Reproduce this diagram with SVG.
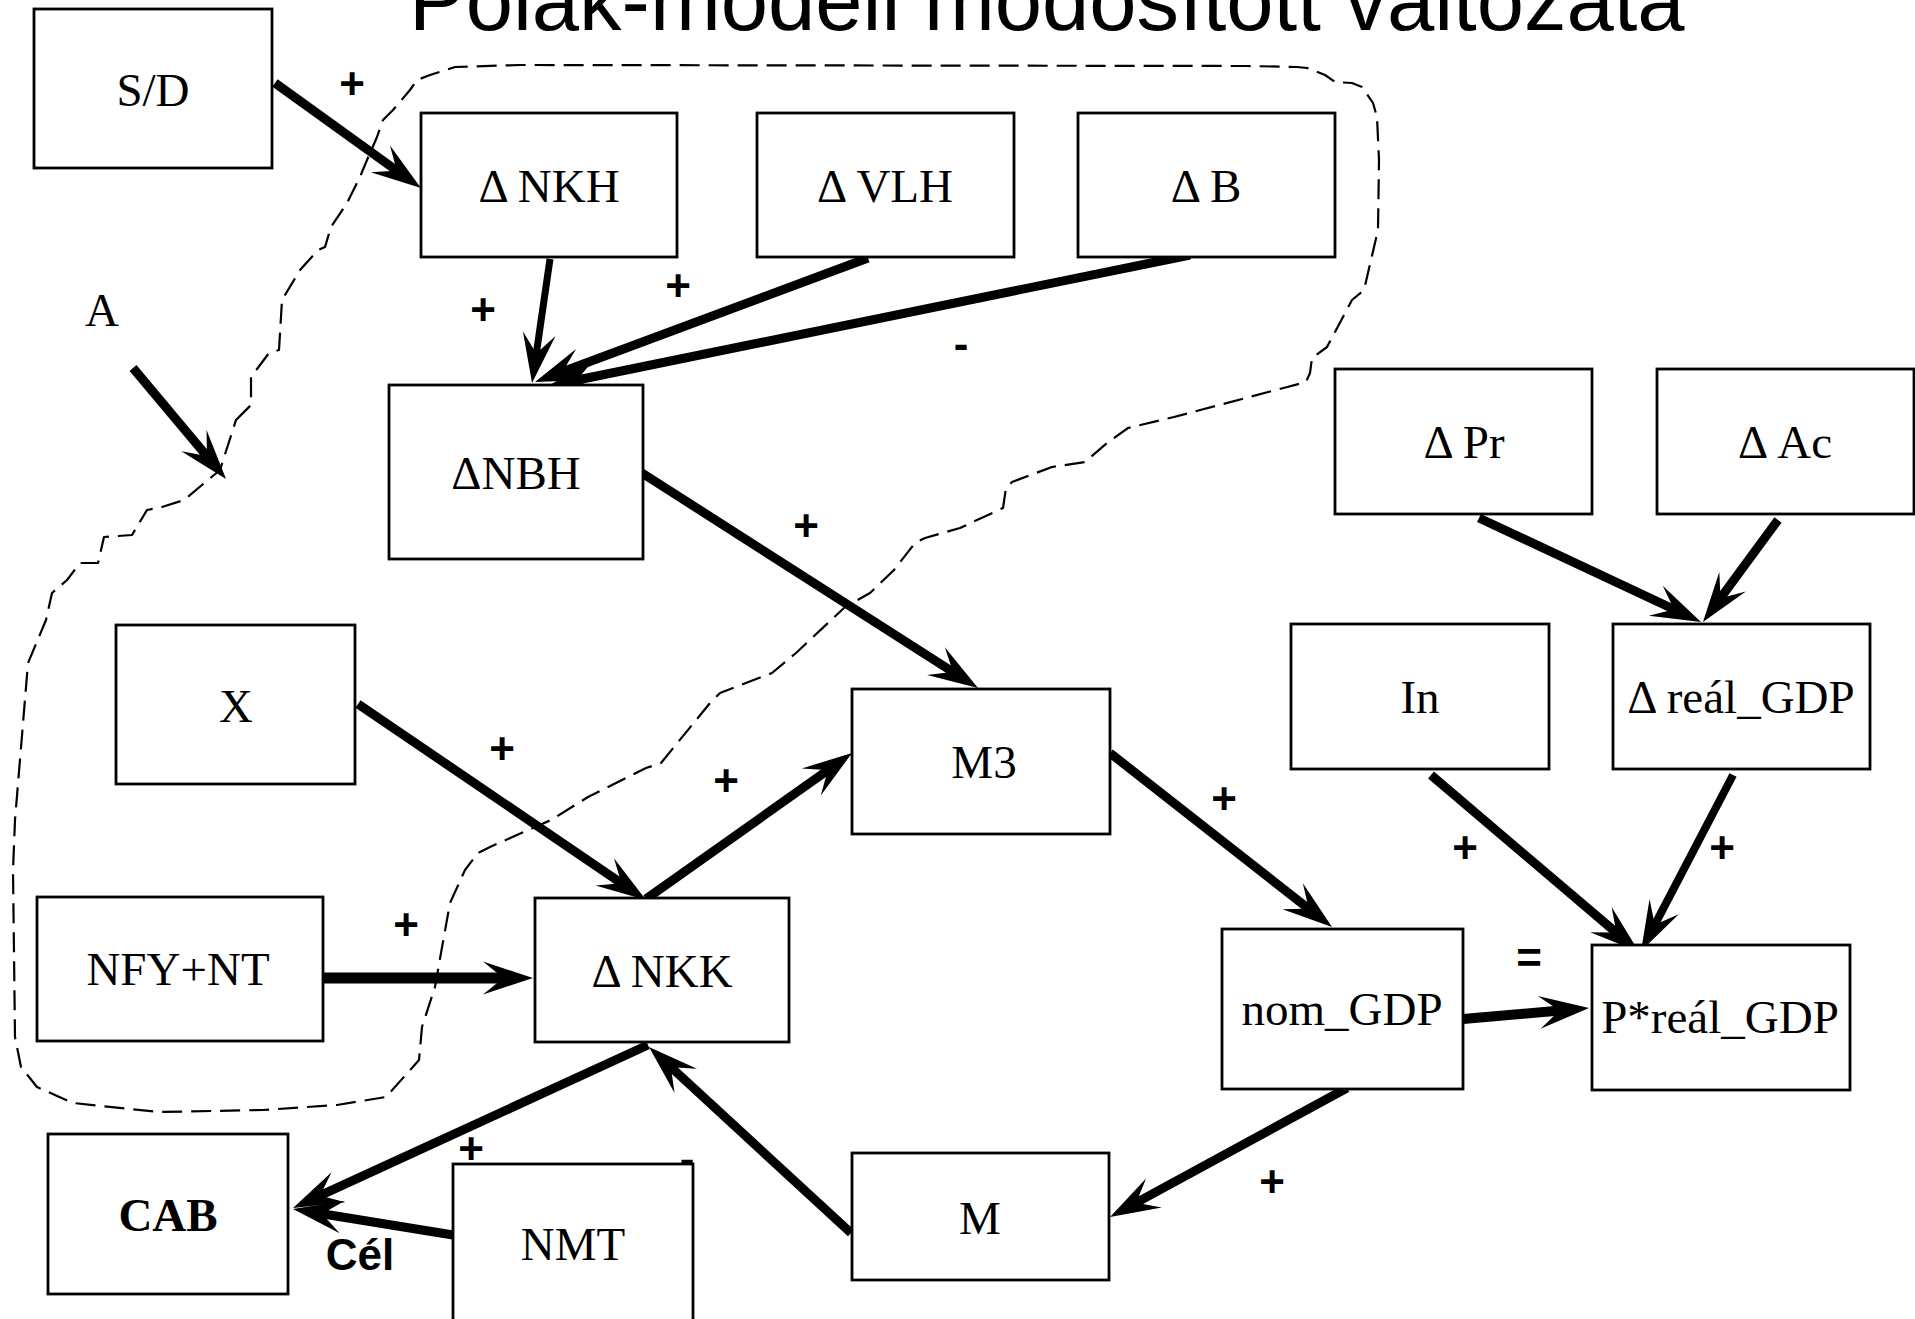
<svg xmlns="http://www.w3.org/2000/svg" width="1915" height="1319" viewBox="0 0 1915 1319">
<style>
  .box { fill: #fff; stroke: #000; stroke-width: 2.8; }
  .lbl { font-family: "Liberation Serif", "Times New Roman", serif; font-size: 47px; fill: #000; text-anchor: middle; }
  .sign { font-family: "Liberation Sans", Arial, sans-serif; font-weight: bold; font-size: 44px; fill: #000; text-anchor: middle; }
  .arr { fill: none; stroke: #000; stroke-width: 9; marker-end: url(#head); }
  .title { font-family: "Liberation Sans", Arial, sans-serif; font-size: 85px; fill: #000; }
  .bound { fill: none; stroke: #000; stroke-width: 2.2; stroke-dasharray: 20 9; stroke-linejoin: round; }
</style>
<defs>
  <marker id="head" markerUnits="userSpaceOnUse" orient="auto" refX="0" refY="0" markerWidth="80" markerHeight="80" viewBox="-40 -40 80 80" overflow="visible">
    <path d="M20,0 L-30,-16.5 L-14,-3.5 L-14,3.5 L-30,16.5 Z" fill="#000"/>
  </marker>
</defs>
<rect width="1915" height="1319" fill="#fff"/>
<text class="title" x="409" y="30">Polák-modell módosított változata</text>

<path class="bound" d="M236,420 L251,405 L251,377 L269,353 L279,350 L282,300 L300,270 L318,250 L325,247 L331,227 L347,203 L360,177 L367,160 L377,137 L383,120 L393,110 L410,90 L417,80 L430,75 L455,67 L520,65 L1247,66 L1297,67 L1307,68 L1325,75 L1335,82 L1352,83 L1362,87 L1373,103 L1377,117 L1379,160 L1378,230 L1364,290 L1352,300 L1327,347 L1312,358 L1310,373 L1306,382 L1174,417 L1128,428 L1107,443 L1085,462 L1052,467 L1012,482 L1006,488 L1003,508 L960,528 L925,538 L915,543 L894,570 L870,593 L845,607 L796,653 L772,673 L720,693 L710,703 L661,763 L646,768 L588,797 L551,820 L490,847 L478,853 L465,870 L450,903 L441,953 L435,987 L422,1027 L419,1060 L386,1097 L337,1105 L263,1110 L159,1112 L73,1103 L37,1087 L21,1067 L15,1037 L13,870 L15,820 L28,663 L46,620 L52,593 L67,580 L80,563 L98,563 L104,537 L132,535 L147,510 L162,507 L184,500 L208,480 L220,470 Z"/>

<g id="connectors">
  <path class="arr" d="M275,83 L404.7,176.4"/>
  <path class="arr" d="M133,368 L213.2,463.6"/>
  <path class="arr" style="stroke-width:7" d="M550,259 L534.9,363.2"/>
  <path class="arr" d="M868,258 L553.7,375"/>
  <path class="arr" d="M1190,255 L567.6,382"/>
  <path class="arr" d="M631,466 L961.2,677.2"/>
  <path class="arr" d="M358,704 L629.5,888.7"/>
  <path class="arr" d="M646,899 L835.7,764.6"/>
  <path class="arr" style="stroke-width:11" d="M324,978 L513,978"/>
  <path class="arr" d="M1110,753 L1316.3,914.7"/>
  <path class="arr" d="M1479,518 L1682.9,613.5"/>
  <path class="arr" d="M1778,520 L1714.8,605.9"/>
  <path class="arr" d="M1431,775 L1623.8,939"/>
  <path class="arr" style="stroke-width:8" d="M1733,775 L1650.3,933.3"/>
  <path class="arr" style="stroke-width:10" d="M1463,1019 L1569.1,1009.7"/>
  <path class="arr" d="M1347,1088 L1127.6,1207.4"/>
  <path class="arr" d="M851,1233 L663.7,1060.5"/>
  <path class="arr" d="M648,1045 L311.2,1199.7"/>
  <path class="arr" d="M453,1235 L312.7,1212.2"/>
</g>

<g id="node-SD"><rect class="box" x="34" y="9" width="238" height="159"/><text class="lbl" x="153" y="106">S/D</text></g>
<g id="node-NKH"><rect class="box" x="421" y="113" width="256" height="144"/><text class="lbl" x="549" y="202">Δ NKH</text></g>
<g id="node-VLH"><rect class="box" x="757" y="113" width="257" height="144"/><text class="lbl" x="885" y="202">Δ VLH</text></g>
<g id="node-B"><rect class="box" x="1078" y="113" width="257" height="144"/><text class="lbl" x="1206" y="202">Δ B</text></g>
<g id="node-A"><text class="lbl" x="102" y="326">A</text></g>
<g id="node-NBH"><rect class="box" x="389" y="385" width="254" height="174"/><text class="lbl" x="516" y="489">ΔNBH</text></g>
<g id="node-Pr"><rect class="box" x="1335" y="369" width="257" height="145"/><text class="lbl" x="1464" y="458">Δ Pr</text></g>
<g id="node-Ac"><rect class="box" x="1657" y="369" width="257" height="145"/><text class="lbl" x="1785" y="458">Δ Ac</text></g>
<g id="node-X"><rect class="box" x="116" y="625" width="239" height="159"/><text class="lbl" x="236" y="722">X</text></g>
<g id="node-M3"><rect class="box" x="852" y="689" width="258" height="145"/><text class="lbl" x="984" y="778">M3</text></g>
<g id="node-In"><rect class="box" x="1291" y="624" width="258" height="145"/><text class="lbl" x="1420" y="713">In</text></g>
<g id="node-realGDP"><rect class="box" x="1613" y="624" width="257" height="145"/><text class="lbl" x="1741" y="713">Δ reál_GDP</text></g>
<g id="node-NFYNT"><rect class="box" x="37" y="897" width="286" height="144"/><text class="lbl" x="178" y="985">NFY+NT</text></g>
<g id="node-NKK"><rect class="box" x="535" y="898" width="254" height="144"/><text class="lbl" x="662" y="987">Δ NKK</text></g>
<g id="node-nomGDP"><rect class="box" x="1222" y="929" width="241" height="160"/><text class="lbl" x="1342" y="1025">nom_GDP</text></g>
<g id="node-PrealGDP"><rect class="box" x="1592" y="945" width="258" height="145"/><text class="lbl" x="1720" y="1033">P*reál_GDP</text></g>
<g id="node-CAB"><rect class="box" x="48" y="1134" width="240" height="160"/><text class="lbl" x="168" y="1231" font-weight="bold">CAB</text></g>
<g id="node-NMT"><rect class="box" x="453" y="1164" width="240" height="200"/><text class="lbl" x="573" y="1260">NMT</text></g>
<g id="node-M"><rect class="box" x="852" y="1153" width="257" height="127"/><text class="lbl" x="980" y="1234">M</text></g>

<g id="labels">
  <text class="sign" x="352" y="99">+</text>
  <text class="sign" x="483" y="325">+</text>
  <text class="sign" x="678" y="301">+</text>
  <text class="sign" x="961" y="359">-</text>
  <text class="sign" x="806" y="541">+</text>
  <text class="sign" x="502" y="764">+</text>
  <text class="sign" x="726" y="796">+</text>
  <text class="sign" x="406" y="940">+</text>
  <text class="sign" x="1224" y="814">+</text>
  <text class="sign" x="1465" y="863">+</text>
  <text class="sign" x="1722" y="863">+</text>
  <text class="sign" x="1529" y="973">=</text>
  <text class="sign" x="1272" y="1197">+</text>
  <text class="sign" x="471" y="1164">+</text>
  <text class="sign" x="687" y="1174">-</text>
  <text class="sign" x="360" y="1270">Cél</text>
</g>
</svg>
